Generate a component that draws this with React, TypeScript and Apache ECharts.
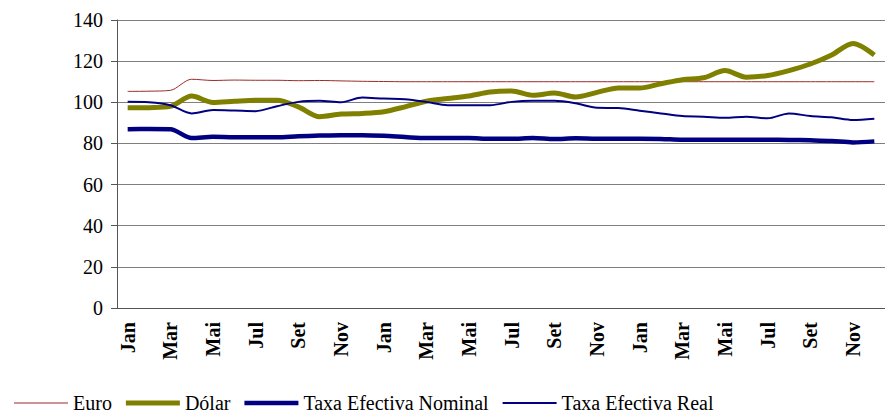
import React, { useEffect, useRef } from "react";
import * as echarts from "echarts";

const months = ["Jan","Fev","Mar","Abr","Mai","Jun","Jul","Ago","Set","Out","Nov","Dez"];
const categories = [...months, ...months, ...months];

const euro = [105.3, 105.4, 105.8, 111.2, 110.6, 110.8, 110.7, 110.7, 110.5, 110.6, 110.4, 110.2,
  110.1, 110, 110, 110, 110, 110, 110, 110, 110, 110, 110, 110,
  110, 110, 110, 110, 110, 110, 110, 110, 110, 110, 110, 110];
const dolar = [97.3, 97.4, 98, 103, 99.9, 100.5, 101, 101, 97.8, 93, 94.3, 94.6,
  95.4, 97.8, 100.5, 101.8, 103.1, 105, 105.5, 103.4, 104.5, 102.6, 104.8, 107,
  106.9, 109, 111, 111.9, 115.4, 112.2, 113, 115.4, 118.6, 123, 128.6, 123];
const taxaNominal = [86.9, 87, 86.9, 82.6, 83.2, 83, 83, 83, 83.5, 83.8, 84, 84,
  83.7, 83.1, 82.6, 82.6, 82.6, 82.3, 82.3, 82.6, 82.1, 82.5, 82.3, 82.3,
  82.3, 82.2, 81.8, 81.8, 81.8, 81.8, 81.8, 81.7, 81.5, 81.2, 80.5, 81];
const taxaReal = [100.2, 100, 98.6, 94.6, 96.2, 96, 95.7, 98.1, 100.2, 100.7, 100, 102.3,
  101.8, 101.5, 100.2, 98.6, 98.6, 98.6, 100.2, 100.7, 100.7, 99.5, 97.3, 97.2,
  95.9, 94.6, 93.3, 93, 92.5, 93, 92.2, 94.6, 93.3, 92.7, 91.4, 92];

const FONT = "'Liberation Serif', 'Times New Roman', serif";

export default function App() {
  const ref = useRef<HTMLDivElement>(null);
  useEffect(() => {
    document.body.style.margin = "0";
    if (!ref.current) return;
    const chart = echarts.init(ref.current, null, { renderer: "svg" });
    const mk = (name: string, data: number[], color: string, width: number) => ({
      name,
      type: "line",
      data,
      smooth: 0.3,
      symbol: "none",
      lineStyle: { color, width },
      itemStyle: { color },
    });
    const lineIcon = (w: number) => `path://M0,0H54V${w}H0Z`;
    chart.setOption({
      animation: false,
      textStyle: { fontFamily: FONT },
      grid: { left: 117, right: -6, top: 20, bottom: 108, containLabel: false },
      legend: {
        left: 9,
        top: 388,
        itemWidth: 54,
        itemHeight: 20,
        itemGap: 14,
        itemStyle: { borderWidth: 0 },
        textStyle: { fontFamily: FONT, fontSize: 20, color: "#000" },
        data: [
          { name: "Euro", icon: lineIcon(1) },
          { name: "Dólar", icon: lineIcon(5) },
          { name: "Taxa Efectiva Nominal", icon: lineIcon(4.5) },
          { name: "Taxa Efectiva Real", icon: lineIcon(2) },
        ],
      },
      xAxis: {
        type: "category",
        data: categories,
        boundaryGap: true,
        axisLine: { lineStyle: { color: "#555", width: 1 } },
        axisTick: { show: false },
        axisLabel: {
          interval: 1,
          rotate: 90,
          margin: 14,
          fontFamily: FONT,
          fontSize: 20,
          fontWeight: "bold",
          color: "#000",
        },
        splitLine: { show: false },
      },
      yAxis: {
        type: "value",
        min: 0,
        max: 140,
        interval: 20,
        axisLine: { show: true, lineStyle: { color: "#555", width: 1 } },
        axisTick: { show: true, length: 6, lineStyle: { color: "#555" } },
        axisLabel: { fontFamily: FONT, fontSize: 20, color: "#000", margin: 14 },
        splitLine: { show: true, lineStyle: { color: "#7f7f7f", width: 1 } },
      },
      series: [
        mk("Euro", euro, "#9b2b2b", 1),
        mk("Dólar", dolar, "#808000", 5),
        mk("Taxa Efectiva Nominal", taxaNominal, "#000080", 4.5),
        mk("Taxa Efectiva Real", taxaReal, "#000080", 2),
      ],
    });
    return () => chart.dispose();
  }, []);
  return <div ref={ref} style={{ width: 885, height: 416 }} />;
}
